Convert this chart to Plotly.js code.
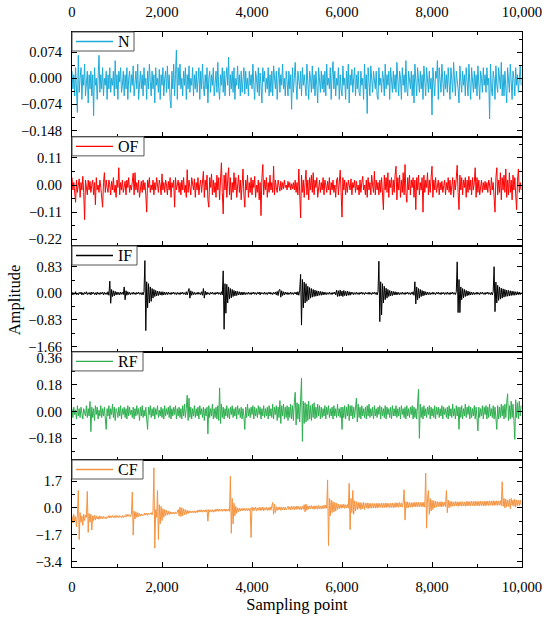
<!DOCTYPE html>
<html><head><meta charset="utf-8">
<script src="https://cdn.plot.ly/plotly-3.0.1.min.js"></script>
<style>html,body{margin:0;padding:0;background:#fff}#chart{width:550px;height:618px}</style>
</head><body><div id="chart"></div>
<script>
// sampling-point spacing between the read-off values
const sampleStep = 20;
const seriesNames = ['N', 'OF', 'IF', 'RF', 'CF'];
const seriesColors = ['#1CAAD9', '#FF0000', '#000000', '#2EAF4F', '#F5923E'];
const xTickStep = 2000;

const N = [
0.02,-0.03,0.01,-0.05,0.03,-0.02,-0.097,0.065,-0.04,0.0,0.03,-0.06,0.01,-0.02,0.04,-0.05,-0.01,0.02,-0.07,0.01,
-0.03,0.02,-0.05,0.01,-0.106,0.03,-0.02,0.0,-0.06,0.02,0.065,-0.04,0.01,-0.03,0.03,-0.05,0.0,-0.02,0.02,-0.06,
0.01,-0.03,0.03,-0.04,0.0,-0.02,0.02,-0.05,0.05,-0.03,0.01,-0.06,0.02,-0.01,0.03,-0.04,-0.02,0.02,-0.05,0.01,
-0.03,0.03,-0.06,0.0,0.02,-0.04,0.01,-0.02,0.035,-0.05,-0.01,0.02,-0.03,0.04,-0.06,0.0,0.02,-0.03,0.01,-0.05,
0.03,-0.02,0.0,-0.06,0.02,-0.03,0.04,-0.01,-0.05,0.02,-0.03,0.01,-0.07,0.03,-0.02,0.0,-0.04,0.025,-0.06,0.01,
-0.02,0.03,-0.05,0.0,0.02,-0.04,0.035,-0.03,0.01,-0.06,-0.084,0.02,-0.03,0.04,-0.05,0.01,0.08,-0.06,0.03,-0.02,
0.04,-0.03,0.0,-0.05,0.02,-0.02,0.03,-0.06,0.01,-0.03,0.035,-0.04,0.0,-0.02,0.03,-0.05,0.01,-0.03,0.02,-0.04,
-0.01,0.03,-0.06,0.02,-0.03,0.04,-0.02,-0.05,0.01,-0.03,0.03,-0.07,0.0,0.02,-0.04,0.01,-0.02,0.03,-0.05,0.0,
0.02,-0.04,0.045,-0.03,-0.06,0.01,-0.02,0.03,-0.04,0.02,-0.05,0.0,0.03,-0.02,0.06,-0.05,0.01,-0.03,0.02,-0.04,
0.03,-0.06,0.0,-0.02,0.035,-0.03,0.01,-0.05,0.02,-0.04,-0.01,0.03,-0.045,0.02,-0.03,0.0,-0.05,0.02,-0.02,0.01,
-0.03,0.04,-0.02,-0.06,0.02,0.0,-0.04,0.03,-0.05,0.015,-0.02,-0.07,0.03,-0.01,0.02,-0.04,0.0,-0.03,0.03,-0.05,
0.01,-0.04,0.02,-0.05,0.035,-0.02,-0.03,0.02,-0.06,0.0,0.03,-0.04,0.01,-0.02,0.04,-0.03,0.0,-0.05,0.02,-0.01,
-0.05,0.02,-0.03,0.01,-0.088,0.03,-0.04,0.0,0.045,-0.02,-0.06,0.02,0.0,-0.03,0.02,-0.05,0.03,-0.02,0.01,-0.04,
-0.05,0.04,-0.02,-0.06,0.02,0.0,-0.04,0.035,-0.03,0.01,-0.05,0.02,-0.02,-0.07,0.03,0.0,-0.04,0.02,-0.03,0.01,
-0.04,0.02,-0.05,0.04,-0.02,0.0,-0.03,0.03,-0.06,0.01,0.047,-0.03,0.02,-0.05,0.0,-0.02,0.03,-0.06,0.01,-0.03,
-0.05,0.035,-0.02,0.0,-0.06,0.02,-0.03,0.04,-0.07,0.01,-0.02,0.025,-0.04,0.0,0.03,-0.05,0.01,-0.03,0.02,-0.04,
-0.05,0.02,-0.02,0.0,-0.06,0.04,-0.03,0.01,-0.1,0.03,-0.02,-0.05,0.035,-0.01,-0.04,0.02,0.0,-0.03,0.02,-0.05,
-0.06,0.03,-0.02,0.0,-0.04,0.02,0.0,-0.05,0.04,-0.03,0.01,-0.02,0.02,-0.06,0.03,-0.01,-0.04,0.02,-0.03,0.01,
-0.04,0.045,-0.02,-0.05,0.02,0.0,-0.06,0.03,-0.02,0.01,-0.04,0.05,-0.03,-0.05,0.02,0.0,-0.03,0.02,-0.05,0.01,
-0.07,0.04,-0.02,-0.05,0.03,0.0,-0.04,0.02,-0.03,0.01,-0.06,0.035,-0.02,-0.05,0.03,-0.01,-0.04,0.02,-0.03,0.0,
-0.104,0.03,-0.02,-0.05,0.02,0.0,0.05,-0.06,0.03,-0.02,-0.04,0.04,0.0,-0.05,0.02,-0.03,0.01,-0.04,0.03,-0.02,
-0.06,0.03,0.0,-0.04,0.045,-0.02,-0.05,0.02,0.0,-0.03,-0.07,0.035,-0.01,-0.04,0.02,-0.02,0.01,-0.05,0.03,-0.02,
-0.05,0.04,-0.02,-0.06,0.03,0.0,-0.04,0.02,-0.03,0.01,-0.05,0.035,-0.02,-0.06,0.02,0.0,-0.04,0.03,-0.02,0.01,
-0.04,0.03,-0.02,0.0,-0.115,0.04,-0.03,-0.05,0.02,0.0,-0.06,0.035,-0.02,-0.04,0.03,0.0,-0.03,0.045,-0.05,0.01,
-0.05,0.02,-0.02,-0.07,0.03,0.0,-0.04,0.04,-0.02,-0.06,0.02,0.0,-0.05,0.03,-0.02,0.01,-0.04,0.02,0.035,-0.02
];

const OF = [
0.03,-0.02,0.01,-0.04,-0.07,0.02,-0.03,0.0,0.025,-0.05,0.01,-0.02,0.035,-0.03,-0.14,0.02,-0.01,-0.04,0.02,-0.02,
0.015,-0.03,0.0,0.02,-0.04,0.01,-0.08,0.03,-0.02,0.0,-0.03,0.02,-0.01,-0.04,-0.09,0.01,0.05,-0.03,0.02,-0.01,
-0.03,0.02,0.0,-0.04,0.015,-0.02,0.03,-0.03,0.0,-0.05,0.02,-0.01,0.07,-0.04,0.01,-0.02,0.02,-0.03,0.0,0.015,
-0.04,0.02,-0.01,0.03,-0.03,0.0,-0.02,0.025,0.048,-0.04,0.05,-0.02,0.01,-0.03,0.02,-0.05,0.0,0.015,-0.03,0.02,
-0.02,0.01,-0.04,-0.11,0.02,-0.01,0.03,-0.03,0.0,-0.02,0.02,-0.04,0.01,-0.02,0.03,-0.01,-0.03,0.02,0.0,-0.04,
0.045,-0.02,0.01,-0.03,0.02,0.0,-0.04,0.015,-0.02,0.03,-0.05,0.01,-0.01,0.02,-0.09,0.03,-0.02,0.0,0.02,-0.03,
0.01,-0.04,0.02,-0.02,0.03,-0.03,0.0,-0.05,0.062,-0.03,0.02,-0.01,-0.04,0.03,0.0,-0.02,0.025,-0.05,0.01,-0.02,
0.03,-0.04,0.0,0.02,-0.03,0.01,0.055,-0.05,0.02,-0.02,0.04,-0.06,-0.09,0.03,-0.01,0.045,-0.04,0.02,-0.03,0.01,
-0.05,0.04,-0.02,0.03,-0.06,0.02,0.09,-0.03,-0.117,0.04,-0.02,0.05,-0.05,0.02,0.07,-0.04,0.03,-0.06,0.01,-0.03,
0.05,-0.02,0.03,-0.05,0.0,0.04,-0.03,0.02,-0.06,0.03,0.065,-0.04,-0.09,0.02,-0.02,0.04,-0.05,0.01,-0.03,0.03,
-0.04,0.02,-0.01,0.035,-0.05,0.0,-0.03,0.02,-0.06,0.01,-0.124,0.03,0.083,-0.04,0.02,-0.02,0.03,-0.05,0.01,-0.03,
0.04,-0.02,0.01,-0.03,0.076,-0.04,0.02,-0.01,-0.03,0.02,0.0,-0.025,0.015,-0.02,0.01,-0.015,0.02,-0.01,0.0,-0.02,
0.015,-0.01,0.01,-0.02,0.005,-0.015,0.01,-0.02,0.02,-0.03,0.01,-0.04,0.065,-0.02,-0.133,0.04,-0.03,0.02,-0.05,0.01,
0.06,-0.04,0.02,-0.06,0.03,-0.02,0.04,-0.03,0.05,-0.04,0.02,-0.01,0.03,-0.05,0.0,0.02,-0.03,0.01,-0.02,0.03,
-0.04,0.02,0.0,-0.03,0.015,-0.02,0.03,-0.04,0.01,-0.02,0.02,-0.03,0.0,-0.05,0.02,0.03,-0.04,0.01,0.06,-0.03,
-0.13,0.03,-0.02,0.02,-0.04,0.01,-0.03,0.02,0.0,-0.02,0.025,-0.04,0.01,-0.01,0.02,-0.03,0.015,-0.02,0.0,-0.04,
0.02,-0.03,0.01,0.035,-0.02,0.0,-0.04,0.02,-0.05,0.03,-0.02,0.01,-0.04,0.04,0.0,-0.03,0.055,-0.04,0.02,-0.02,
0.01,-0.04,0.02,-0.03,0.03,-0.05,-0.1,0.04,-0.02,0.03,-0.03,0.05,-0.05,0.02,-0.01,0.03,-0.04,0.02,-0.03,0.04,
0.076,-0.06,0.03,-0.02,0.04,-0.05,0.02,-0.03,0.05,-0.04,0.083,-0.03,-0.07,0.03,-0.02,0.04,-0.04,0.02,-0.01,0.03,
-0.05,0.02,-0.1,0.03,-0.02,0.04,-0.04,0.01,-0.02,0.03,-0.11,0.04,-0.03,0.02,-0.01,0.05,-0.04,0.02,-0.03,0.03,
0.076,-0.05,0.02,-0.02,0.03,-0.03,0.0,0.02,-0.04,0.01,-0.02,0.015,-0.03,0.0,0.02,-0.04,0.01,-0.02,0.03,-0.03,
0.02,-0.04,0.0,0.03,-0.05,0.02,-0.02,0.04,0.08,-0.03,-0.1,0.04,-0.02,0.03,-0.04,0.02,-0.01,0.03,-0.05,0.02,
-0.03,0.035,-0.02,0.02,-0.04,0.03,-0.02,0.01,0.07,-0.05,0.03,-0.03,0.02,-0.04,0.0,0.02,-0.03,0.01,-0.02,0.015,
-0.02,0.01,-0.03,0.02,0.0,-0.04,0.03,-0.02,0.01,-0.05,-0.11,0.03,0.07,-0.04,0.02,-0.03,0.05,-0.06,0.03,-0.02,
0.04,-0.03,0.065,-0.05,0.02,-0.04,0.05,-0.03,0.02,-0.06,0.04,-0.02,0.03,-0.04,-0.1,0.02,0.065,-0.03,0.01,-0.02
];

const IF = [
0.04,-0.05,0.02,-0.03,0.05,-0.04,0.01,-0.05,0.03,-0.02,0.04,-0.05,0.02,-0.04,0.03,-0.02,0.05,-0.04,0.02,-0.03,
0.03,-0.05,0.04,-0.02,0.03,-0.04,0.02,-0.05,0.04,-0.03,0.02,-0.04,0.03,-0.02,0.04,-0.05,0.03,-0.03,0.02,-0.04,
0.05,-0.06,0.38,-0.31,0.12,-0.1,0.08,-0.08,0.06,-0.05,0.04,-0.04,0.03,-0.05,0.04,-0.03,0.03,-0.04,0.2,-0.2,
0.08,-0.06,0.05,-0.04,0.03,-0.04,0.02,-0.03,0.04,-0.03,0.02,-0.04,0.03,-0.02,0.04,-0.03,0.02,-0.04,0.03,-0.05,
0.06,1.02,-1.16,0.36,-0.45,0.3,-0.3,0.2,-0.25,0.15,-0.15,0.12,-0.1,0.09,-0.08,0.07,-0.07,0.06,-0.05,0.05,
-0.06,0.05,-0.05,0.04,-0.04,0.03,-0.04,0.04,-0.03,0.02,-0.04,0.03,-0.02,0.04,-0.03,0.02,-0.04,0.03,-0.03,0.02,
-0.04,0.03,-0.02,0.04,-0.03,0.02,-0.04,0.05,-0.05,0.06,0.15,-0.15,0.08,-0.06,0.05,-0.04,0.03,-0.04,0.02,-0.03,
0.04,-0.03,0.02,-0.04,0.05,-0.06,0.15,-0.15,0.07,-0.05,0.04,-0.03,0.02,-0.04,0.03,-0.02,0.04,-0.03,0.02,-0.04,
0.03,-0.02,0.04,-0.03,0.02,-0.04,0.05,-0.05,0.7,-1.12,0.3,-0.62,0.28,-0.3,0.2,-0.18,0.15,-0.14,0.12,-0.1,
0.09,-0.08,0.07,-0.07,0.06,-0.05,0.05,-0.05,0.04,-0.05,0.04,-0.04,0.03,-0.04,0.02,-0.03,0.04,-0.03,0.02,-0.04,
0.03,-0.02,0.04,-0.03,0.02,-0.04,0.03,-0.02,0.04,-0.05,0.03,-0.02,0.02,-0.03,0.04,-0.03,0.02,-0.04,0.03,-0.02,
0.04,-0.03,0.02,-0.04,0.03,-0.02,0.04,-0.05,0.06,-0.07,0.1,0.12,-0.12,0.08,-0.07,0.05,-0.05,0.04,-0.03,0.03,
-0.04,0.02,-0.03,0.04,-0.03,0.02,-0.04,0.03,-0.02,0.04,-0.05,0.05,-0.06,0.1,0.59,-0.99,0.43,-0.45,0.35,-0.3,
0.3,-0.25,0.22,-0.2,0.18,-0.15,0.15,-0.12,0.12,-0.1,0.1,-0.09,0.08,-0.08,0.07,-0.06,0.06,-0.06,0.05,-0.05,
0.04,-0.04,0.03,-0.04,0.02,-0.03,0.04,-0.03,0.02,-0.04,0.03,-0.02,0.04,-0.05,0.1,-0.1,0.08,-0.09,0.1,-0.08,
0.07,-0.1,0.09,-0.07,0.06,-0.08,0.07,-0.06,0.05,-0.06,0.04,-0.03,0.03,-0.04,0.02,-0.03,0.04,-0.03,0.02,-0.04,
0.03,-0.02,0.04,-0.03,0.02,-0.04,0.03,-0.02,0.02,-0.03,0.04,-0.03,0.02,-0.04,0.03,-0.02,0.04,-0.03,0.03,-0.05,
0.05,1.0,-0.88,0.36,-0.67,0.3,-0.3,0.22,-0.2,0.16,-0.15,0.12,-0.1,0.09,-0.08,0.07,-0.07,0.06,-0.05,0.05,
-0.05,0.04,-0.04,0.03,-0.04,0.02,-0.03,0.04,-0.03,0.02,-0.04,0.03,-0.02,0.04,-0.03,0.02,-0.04,0.03,-0.03,0.05,
-0.06,0.36,-0.33,0.2,-0.2,0.15,-0.15,0.12,-0.1,0.09,-0.08,0.07,-0.06,0.05,-0.05,0.04,-0.04,0.03,-0.04,0.02,
-0.03,0.04,-0.03,0.02,-0.04,0.03,-0.02,0.04,-0.03,0.02,-0.04,0.03,-0.02,0.03,-0.04,0.02,-0.03,0.04,-0.03,0.02,
-0.04,0.03,-0.02,0.04,-0.03,0.02,-0.04,0.05,0.98,-0.6,0.43,-0.6,0.2,-0.2,0.15,-0.14,0.12,-0.1,0.09,-0.08,
0.07,-0.06,0.05,-0.05,0.04,-0.04,0.03,-0.04,0.02,-0.03,0.04,-0.03,0.02,-0.04,0.03,-0.02,0.04,-0.03,0.02,-0.04,
0.03,-0.02,0.04,-0.03,0.02,-0.04,0.03,-0.05,0.05,0.83,-0.57,0.35,-0.3,0.25,-0.22,0.2,-0.18,0.16,-0.15,0.14,
-0.12,0.12,-0.1,0.1,-0.09,0.09,-0.08,0.08,-0.07,0.07,-0.06,0.06,-0.06,0.05,-0.05,0.05,-0.04,0.04,-0.04,0.03
];

const RF = [
0.02,-0.04,0.03,-0.02,0.01,-0.05,0.04,-0.03,0.02,-0.04,0.03,-0.01,-0.05,0.02,0.0,-0.03,0.04,-0.04,0.02,-0.03,
0.068,-0.135,0.03,-0.04,0.02,-0.06,0.04,-0.02,0.03,-0.05,0.01,-0.03,0.04,-0.04,0.02,-0.03,0.03,-0.05,-0.12,0.02,
-0.03,0.04,-0.05,0.02,-0.02,0.05,-0.04,0.03,-0.06,0.02,0.0,-0.04,0.03,-0.03,0.04,-0.05,0.02,-0.02,0.03,-0.04,
0.02,-0.05,0.04,-0.03,0.03,-0.02,0.01,-0.04,0.03,-0.05,0.02,-0.03,0.04,-0.02,0.02,-0.06,0.03,-0.03,0.04,-0.04,
0.01,-0.03,0.03,-0.05,-0.12,0.03,-0.02,0.04,-0.04,0.02,-0.03,0.03,-0.05,0.02,-0.02,0.04,-0.04,0.01,-0.03,0.03,
-0.04,0.02,-0.05,0.04,-0.03,0.02,-0.02,0.03,-0.04,0.04,-0.05,0.02,-0.03,0.03,-0.02,0.04,-0.05,0.02,-0.03,0.03,
-0.04,0.02,-0.05,0.04,-0.03,0.05,-0.04,0.02,0.11,-0.06,0.09,-0.04,0.03,-0.05,0.02,-0.03,0.04,-0.04,0.02,-0.03,
0.03,-0.05,0.04,-0.02,0.02,-0.04,0.03,-0.06,0.02,-0.03,0.03,-0.15,0.04,-0.04,0.02,-0.03,0.05,-0.05,0.02,-0.04,
0.03,-0.05,0.04,-0.06,0.16,-0.08,0.05,-0.04,0.03,-0.05,0.02,-0.03,0.04,-0.04,0.02,-0.05,0.03,-0.02,0.04,-0.04,
0.02,-0.03,0.03,-0.05,0.04,-0.02,0.02,-0.04,0.03,-0.05,0.02,-0.03,-0.12,0.03,-0.04,0.05,-0.03,0.02,-0.04,0.03,
-0.02,0.04,-0.05,0.03,-0.03,0.02,-0.04,0.04,-0.02,0.03,-0.05,0.02,-0.03,0.04,-0.04,0.02,-0.03,0.03,-0.05,0.04,
-0.03,0.02,-0.04,0.05,-0.05,0.03,-0.02,0.04,-0.06,0.03,-0.04,0.074,-0.08,0.04,-0.03,0.05,-0.05,0.03,-0.04,0.04,
-0.06,0.03,-0.04,0.05,-0.05,0.04,-0.06,0.06,0.13,-0.09,0.06,-0.05,0.05,-0.07,0.04,0.225,-0.2,0.07,-0.08,0.06,
-0.07,0.05,-0.06,0.07,-0.05,0.04,-0.06,0.05,-0.04,0.06,-0.05,0.03,-0.04,0.05,-0.03,0.04,-0.05,0.03,-0.04,0.02,
-0.03,0.04,-0.05,0.03,-0.02,0.04,-0.04,0.02,-0.03,0.03,-0.05,0.04,-0.03,0.02,-0.04,0.05,-0.03,0.02,-0.04,0.03,
-0.12,0.03,-0.04,0.04,-0.05,0.03,-0.03,0.05,-0.06,0.04,-0.03,0.04,-0.05,0.03,-0.04,0.05,0.09,-0.07,0.05,-0.04,
0.03,-0.05,0.04,-0.03,0.02,-0.04,0.03,-0.05,0.04,-0.03,0.05,-0.04,0.02,-0.03,0.03,-0.05,0.04,-0.03,0.02,-0.04,
0.03,-0.02,0.04,-0.05,0.03,-0.03,0.02,-0.04,0.04,-0.05,0.03,-0.02,0.02,-0.04,0.03,-0.05,0.04,-0.03,0.02,-0.03,
0.04,-0.04,0.02,-0.03,0.03,-0.05,0.04,-0.02,0.02,-0.04,0.03,-0.05,0.04,-0.03,0.02,-0.04,0.03,-0.02,0.04,-0.05,
0.03,-0.04,0.02,-0.05,0.05,0.15,-0.18,0.05,-0.04,0.03,-0.05,0.04,-0.03,0.02,-0.04,0.03,-0.02,0.04,-0.05,0.03,
-0.03,0.02,-0.04,0.04,-0.05,0.03,-0.02,0.03,-0.04,0.02,-0.03,0.04,-0.05,0.03,-0.02,0.02,-0.04,0.03,-0.05,0.04,
-0.03,0.02,-0.04,0.05,-0.03,0.02,-0.05,0.04,-0.03,0.03,-0.12,0.03,-0.04,0.04,-0.05,0.02,-0.03,0.05,-0.04,0.03,
-0.02,0.04,-0.05,0.03,-0.04,0.02,-0.03,0.04,-0.05,0.03,-0.04,-0.13,0.03,-0.04,0.02,-0.03,0.04,-0.05,0.03,-0.02,
0.04,-0.05,0.03,-0.04,0.05,-0.03,0.02,-0.04,0.04,-0.05,0.03,-0.03,-0.12,0.04,-0.05,0.03,-0.04,0.05,-0.03,0.04,
-0.05,0.05,-0.04,0.06,0.12,-0.06,0.04,-0.05,0.07,-0.04,0.05,-0.06,-0.187,0.08,-0.04,0.06,-0.05,0.07,-0.03,0.04
];

const CF = [
-0.5,-0.95,-0.4,-0.85,-0.55,-1.2,-0.45,1.1,-2.0,-0.3,-0.9,-0.5,-1.1,-0.4,-0.8,-0.45,-0.6,1.04,-1.55,-0.35,
-0.9,-0.4,-1.4,-0.5,-0.8,-0.45,-0.75,-0.5,-0.7,-0.55,-0.72,-0.5,-0.68,-0.55,-0.7,-0.52,-0.65,-0.58,-0.7,-0.55,
-0.62,-0.48,-0.64,-0.5,-0.62,-0.48,-0.6,-0.5,-0.63,-0.47,-0.6,-0.5,-0.62,-0.48,-0.58,-0.6,-0.47,-0.62,-0.5,-0.58,
-0.42,-0.55,-0.4,-0.53,-0.42,-0.55,-0.4,1.0,-1.72,-0.2,-0.7,-0.25,-0.6,-0.3,-0.55,-0.35,-0.52,-0.38,-0.5,-0.4,
-0.46,-0.32,-0.45,-0.34,-0.47,-0.32,-0.43,-0.36,-0.3,-0.45,-0.2,2.54,-2.54,-0.1,-0.6,1.1,-2.0,0.2,-1.0,0.1,
-0.8,-0.05,-0.6,-0.1,-0.5,-0.15,-0.45,-0.2,-0.42,-0.24,-0.39,-0.26,-0.38,-0.27,-0.39,-0.25,-0.37,-0.27,-0.1,-0.5,
0.05,-0.55,0.0,-0.5,-0.05,-0.45,-0.1,-0.4,-0.15,-0.36,-0.18,-0.32,-0.2,-0.31,-0.19,-0.32,-0.18,-0.31,-0.2,-0.3,
-0.13,-0.26,-0.12,-0.26,-0.11,-0.27,-0.13,-0.25,-0.12,-0.26,-0.11,-0.84,-0.1,-0.27,-0.12,-0.25,-0.11,-0.27,-0.12,-0.24,
-0.07,-0.21,-0.06,-0.22,-0.08,-0.2,-0.07,-0.22,-0.08,-0.2,-0.06,-0.22,-0.08,-0.2,-0.06,-0.22,2.0,-1.6,0.6,-1.0,
0.3,-0.5,0.1,-0.35,0.0,-0.25,-0.02,-0.2,-0.03,-0.18,-0.02,-0.17,-0.03,-0.18,-0.02,-0.17,-0.03,-0.18,-0.02,-1.87,
0.05,-0.18,0.02,-0.15,0.06,-0.2,0.0,-0.14,0.04,-0.17,0.03,-0.15,0.05,-0.19,0.01,-0.13,0.04,-0.16,0.02,-0.15,
0.06,-0.14,0.05,0.35,-0.4,0.25,-0.3,0.08,-0.16,0.05,-0.13,0.07,-0.15,0.04,-0.12,0.06,-0.14,0.05,-0.13,0.07,
0.1,-0.1,0.08,-0.12,0.11,-0.09,0.1,-0.11,0.09,-0.1,0.12,-0.08,0.1,-0.12,0.08,-0.1,0.11,-0.09,0.2,-0.25,
0.25,-0.15,0.14,-0.08,0.13,-0.07,0.15,-0.06,0.12,-0.09,0.14,-0.05,0.13,-0.08,0.15,-0.06,0.12,-0.07,0.14,-0.05,
0.17,-0.03,0.18,-0.02,1.77,-2.38,0.6,-0.5,0.5,-0.3,0.4,-0.25,0.35,-0.2,0.3,-0.1,0.25,-0.05,0.22,-0.02,
0.22,0.0,0.24,-0.03,0.2,0.0,0.22,-0.02,1.55,-1.37,0.6,-0.3,1.1,-0.4,0.45,-0.2,0.4,-0.1,0.35,-0.05,
0.35,-0.1,0.3,-0.05,0.35,-0.1,0.3,0.0,0.32,-0.05,0.3,0.0,0.28,-0.02,0.3,0.0,0.27,-0.01,0.29,0.0,
0.3,0.02,0.28,0.04,0.31,0.01,0.29,0.03,0.3,0.02,0.31,0.04,0.28,0.02,0.3,0.03,0.31,0.01,0.29,0.03,
0.34,0.05,0.32,0.04,0.34,0.06,0.32,0.04,0.33,1.15,-0.77,0.4,0.0,0.38,0.02,0.34,0.05,0.33,0.04,0.34,
0.07,0.36,0.06,0.35,0.08,0.36,0.06,0.34,0.08,0.35,0.06,0.36,0.05,2.2,-1.28,0.6,1.1,-0.4,0.6,-0.2,
0.5,-0.1,0.45,0.0,0.42,0.05,0.4,0.08,0.38,0.08,0.4,0.07,0.38,0.1,0.37,0.09,1.1,-0.3,0.5,0.0,
0.42,0.08,0.4,0.1,0.38,0.11,0.4,0.12,0.39,0.1,0.38,0.13,0.4,0.11,0.39,0.12,0.38,0.1,0.4,0.12,
0.42,0.14,0.4,0.13,0.43,0.15,0.41,0.12,0.43,0.15,0.41,0.14,0.42,0.13,0.43,0.15,0.41,0.14,0.42,0.13,
0.44,0.16,0.43,0.15,0.45,0.17,0.44,0.16,0.46,0.15,0.44,0.17,0.45,0.16,0.44,0.17,0.46,0.15,1.65,0.1,
0.6,0.0,0.55,0.05,0.5,0.1,0.55,-0.05,0.6,0.15,0.5,0.1,0.55,0.05,0.5,0.15,0.48,0.15,0.5,0.2
];

// y-axis tick spacing, formats and visible ranges per panel
const yTickSteps = [0.074, 0.11, 0.83, 0.18, 1.7];
const yTickFormats = ['.3f', '.2f', '.2f', '.2f', '.1f'];
const yRanges = [[-0.166, 0.131], [-0.247, 0.195], [-1.825, 1.474], [-0.326, 0.402], [-3.735, 3.03]];

const allSeries = [N, OF, IF, RF, CF];
const FONT = 'Liberation Serif, "Times New Roman", serif';
const domains = [[0.804, 1], [0.6, 0.804], [0.402, 0.6], [0.2, 0.402], [0, 0.2]];

// plot-area size in px (for legend box geometry)
const PLOT_W = 450, PLOT_H = 535;
const legendBoxW = [62, 72, 65, 71, 71];
const legendBoxH = 19;

const traces = allSeries.map((vals, i) => ({
  type: 'scatter', mode: 'lines',
  x: vals.map((_, k) => k * sampleStep),
  y: vals,
  name: seriesNames[i],
  line: {color: seriesColors[i], width: 1},
  xaxis: 'x' + (i ? i + 1 : ''),
  yaxis: 'y' + (i ? i + 1 : ''),
  showlegend: false,
  hoverinfo: 'skip'
}));

const shapes = [];
const annotations = [{
  text: 'Amplitude', xref: 'paper', yref: 'paper',
  x: -0.127, y: 0.5, xanchor: 'center', yanchor: 'middle',
  textangle: -90, showarrow: false,
  font: {family: FONT, size: 16.5, color: '#000'}
}];

for (let i = 0; i < 5; i++) {
  const top = domains[i][1];
  const h = legendBoxH / PLOT_H;
  const mid = top - h / 2;
  shapes.push({type: 'rect', xref: 'paper', yref: 'paper', layer: 'above',
    x0: 0, x1: legendBoxW[i] / PLOT_W, y0: top - h, y1: top,
    fillcolor: '#fff', line: {color: '#555', width: 1}});
  shapes.push({type: 'line', xref: 'paper', yref: 'paper', layer: 'above',
    x0: 4 / PLOT_W, x1: 41 / PLOT_W, y0: mid, y1: mid,
    line: {color: seriesColors[i], width: 1.3}});
  annotations.push({text: seriesNames[i], xref: 'paper', yref: 'paper',
    x: 43.5 / PLOT_W, y: mid, xanchor: 'left', yanchor: 'middle', showarrow: false,
    font: {family: FONT, size: 16, color: '#000'}});
}

const layout = {
  width: 550, height: 618,
  margin: {l: 72, r: 28, t: 32, b: 51},
  paper_bgcolor: '#fff', plot_bgcolor: '#fff',
  showlegend: false,
  font: {family: FONT, size: 14, color: '#000'},
  shapes, annotations
};

for (let i = 0; i < 5; i++) {
  const s = i ? String(i + 1) : '';
  const xa = {
    domain: [0, 1], range: [0, 10000], anchor: 'y' + s,
    tickmode: 'linear', tick0: 0, dtick: xTickStep, tickformat: ',d',
    ticks: 'inside', ticklen: 5, tickwidth: 1, tickcolor: '#000',
    showline: true, linecolor: '#000', linewidth: 1.2,
    showgrid: false, zeroline: false, fixedrange: true,
    minor: {dtick: xTickStep / 2, ticks: 'inside', ticklen: 3, tickcolor: '#000', showgrid: false},
    tickfont: {family: FONT, size: 14.7, color: '#000'},
    ticklabelstandoff: i === 0 ? 8 : 6,
    showticklabels: (i === 0 || i === 4),
    side: i === 0 ? 'top' : 'bottom',
    mirror: i === 0 ? 'ticks' : true
  };
  if (i > 0) xa.matches = 'x';
  if (i === 4) xa.title = {text: 'Sampling point', font: {family: FONT, size: 16.5, color: '#000'}, standoff: 0};
  layout['xaxis' + s] = xa;

  const d = yTickSteps[i];
  layout['yaxis' + s] = {
    domain: domains[i], range: yRanges[i], anchor: 'x' + s,
    tickmode: 'linear', tick0: 0, dtick: d, tickformat: yTickFormats[i],
    ticks: 'inside', ticklen: 5, tickwidth: 1, tickcolor: '#000',
    showline: true, linecolor: '#000', linewidth: 1.2, mirror: 'ticks',
    showgrid: false, zeroline: false, fixedrange: true,
    minor: {dtick: d / 2, ticks: 'inside', ticklen: 3, tickcolor: '#000', showgrid: false},
    tickfont: {family: FONT, size: 14.5, color: '#000'},
    ticklabelstandoff: 6
  };
}

Plotly.newPlot('chart', traces, layout, {displayModeBar: false, staticPlot: true});
</script>
</body></html>
